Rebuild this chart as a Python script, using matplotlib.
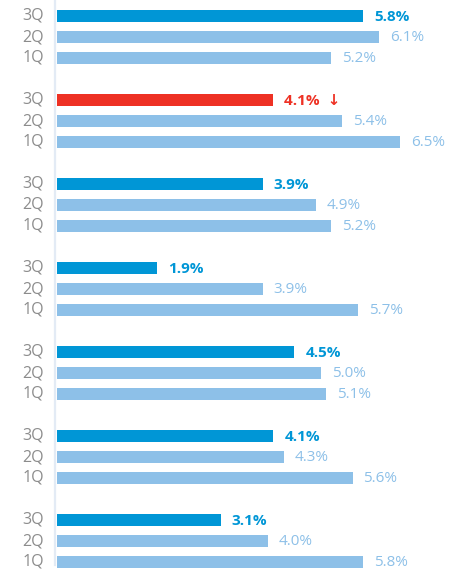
import matplotlib
matplotlib.use("Agg")
import matplotlib.pyplot as plt
import numpy as np

quarters = ["3Q", "2Q", "1Q"]
q3 = [5.8, 4.1, 3.9, 1.9, 4.5, 4.1, 3.1]
q2 = [6.1, 5.4, 4.9, 3.9, 5.0, 4.3, 4.0]
q1 = [5.2, 6.5, 5.2, 5.7, 5.1, 5.6, 5.8]
down = [False, True, False, False, False, False, False]

DARK = "#0096D6"
LIGHT = "#8DC0E8"
RED = "#EE3124"
GREY = "#8C8C8C"

plt.rcParams["font.family"] = ["Open Sans", "DejaVu Sans"]

fig = plt.figure(figsize=(4.6, 5.72), dpi=100)
px = 52.77  # pixels per percent
ax = fig.add_axes([57 / 460, 0, 403 / 460, 1])
ax.set_xlim(0, 403 / px)
ax.set_ylim((572 - 16) / 21, -16 / 21)
ax.axis("off")

off = 11 / px
for g in range(len(q3)):
    base = 4 * g
    vals = [q3[g], q2[g], q1[g]]
    for r, v in enumerate(vals):
        y = base + r
        if r == 0:
            c = RED if down[g] else DARK
            tc = c
            w = "bold"
        else:
            c = LIGHT
            tc = LIGHT
            w = "normal"
        ax.barh(y, v, height=0.58, color=c, left=0)
        label = f"{v:.1f}%" + ("  \u2193" if (r == 0 and down[g]) else "")
        ax.text(v + off, y + 0.04, label, color=tc, fontsize=11, fontweight=w,
                va="center", ha="left")
        fig.text(44 / 460, 1 - (16 + 21 * y) / 572, quarters[r], color=GREY,
                 fontsize=11.5, va="center", ha="right")

ax.plot([-2 / px, -2 / px], [-1, (565 - 16) / 21], color="#E3EBF5", lw=1.6,
        clip_on=False)

fig.savefig("out.png", dpi=100)
